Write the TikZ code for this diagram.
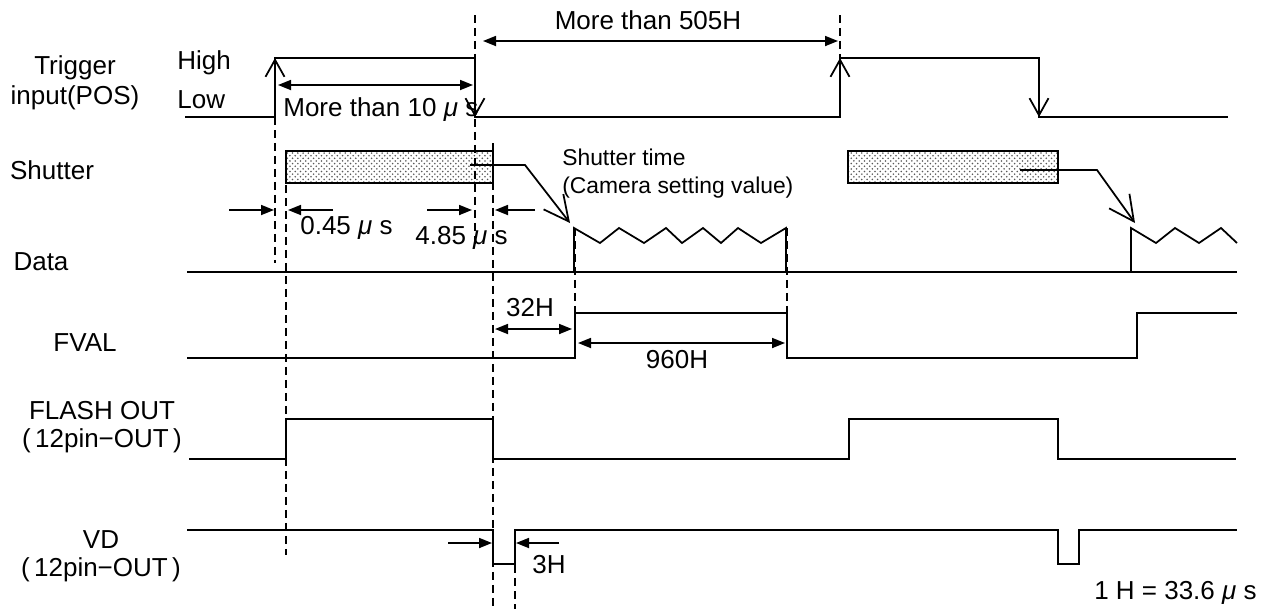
\documentclass[tikz,border=0pt]{standalone}
\usepackage{fontspec}
\setmainfont{Liberation Sans}
\usetikzlibrary{arrows.meta,patterns}

\newcommand{\us}{\textit{μ}}

\begin{document}
\begin{tikzpicture}[
  x=0.02cm, y=-0.02cm,
  every node/.style={font=\fontsize{14.8}{17}\selectfont, inner sep=0pt},
  wave/.style      ={line width=1pt},
  guide/.style     ={line width=0.9pt, dash pattern=on 1.6mm off 1mm},
  dimarrow/.style  ={line width=1pt, {Triangle[length=2.6mm,width=2mm]}-{Triangle[length=2.6mm,width=2mm]}},
  ptrarrow/.style  ={line width=1pt, -{Triangle[length=2.6mm,width=2mm]}},
  edgearrow/.style ={line width=1pt, -{Straight Barb[length=3.4mm,width=3.8mm]}},
  callout/.style   ={line width=1pt, -{Straight Barb[length=5mm,width=5mm]}},
  shutterbox/.style={draw, line width=1pt, pattern=crosshatch dots, pattern color=black!65}
]
\useasboundingbox (0,0) rectangle (1275,609);

\node[align=center] (trig) at (75,83) {Trigger\\input(POS)};
\node[anchor=west] (high) at (177,63) {High};
\node[anchor=west] (low) at (177,100) {Low};
\node (shut) at (52,170) {Shutter};
\node (data) at (41,262) {Data};
\node (fval) at (85,343) {FVAL};
\node[align=center, font=\fontsize{14.8}{15.5}\selectfont] (flash) at (102,427) {FLASH OUT\\(\,12pin−OUT\,)};
\node[align=center, font=\fontsize{14.8}{16}\selectfont] (vd) at (101,556) {VD\\(\,12pin−OUT\,)};

\draw[wave] (185,117) -- (275,117) -- (275,58) -- (475,58) -- (475,117) -- (840,117)
  -- (840,58) -- (1039,58) -- (1039,117) -- (1228,117);
\draw[edgearrow] (275,90) -- (275,58);
\draw[edgearrow] (475,90) -- (475,117);
\draw[edgearrow] (840,90) -- (840,58);
\draw[edgearrow] (1039,90) -- (1039,117);

\draw[dimarrow] (278,85) -- (473,85);
\node[anchor=west] (t10) at (283,110) {More than 10 \us\ s};
\draw[dimarrow] (483,41) -- (838,41);
\node (t505) at (648,20) {More than 505H};

\draw[shutterbox] (286,151) rectangle (493,183);
\draw[shutterbox] (848,151) rectangle (1058,183);
\draw[callout] (470,165) -- (525,165) -- (570,223);
\draw[callout] (1020,170) -- (1097,170) -- (1135,223);
\node[anchor=west, align=left, font=\fontsize{13}{15.9}\selectfont] (stime) at (562,174)
  {Shutter time\\(Camera setting value)};

\draw[ptrarrow] (229,210) -- (274,210);
\draw[ptrarrow] (333,210) -- (288,210);
\node[anchor=west] (t045) at (300,228) {0.45 \us\ s};
\draw[ptrarrow] (427,210) -- (472,210);
\draw[ptrarrow] (535,210) -- (495,210);
\node[anchor=west] (t485) at (415,238) {4.85 \us\ s};

\draw[wave] (187,272) -- (1237,272);
\draw[wave] (574,272) -- (574,228) -- (600,243) -- (619,228) -- (644,243) -- (666,228)
  -- (682,243) -- (703,228) -- (721,243) -- (738,228) -- (761,243) -- (786,228) -- (786,272);
\draw[wave] (1131,272) -- (1131,228) -- (1156,243) -- (1175,228) -- (1199,243) -- (1221,228)
  -- (1237,243);

\draw[wave] (187,358) -- (575,358) -- (575,313) -- (787,313) -- (787,358) -- (1137,358)
  -- (1137,313) -- (1237,313);
\draw[dimarrow] (495,329) -- (572,329);
\node (t32) at (530,308) {32H};
\draw[dimarrow] (578,343) -- (785,343);
\node (t960) at (677,360) {960H};

\draw[wave] (189,459) -- (286,459) -- (286,419) -- (493,419) -- (493,459) -- (849,459)
  -- (849,419) -- (1058,419) -- (1058,459) -- (1236,459);

\draw[wave] (187,530) -- (493,530) -- (493,564) -- (515,564) -- (515,530) -- (1058,530)
  -- (1058,564) -- (1079,564) -- (1079,530) -- (1237,530);
\draw[ptrarrow] (448,543) -- (492,543);
\draw[ptrarrow] (559,543) -- (516,543);
\node (t3h) at (549,565) {3H};
\node[anchor=east] (hunit) at (1257,593) {1 H = 33.6 \us\ s};

\draw[guide] (275,117) -- (275,263);
\draw[guide] (286,185) -- (286,555);
\draw[guide] (475,15) -- (475,247);
\draw[guide] (493,143) -- (493,609);
\draw[guide] (515,565) -- (515,609);
\draw[guide] (575,228) -- (575,313);
\draw[guide] (787,228) -- (787,358);
\draw[guide] (840,15) -- (840,58);
\end{tikzpicture}
\end{document}
